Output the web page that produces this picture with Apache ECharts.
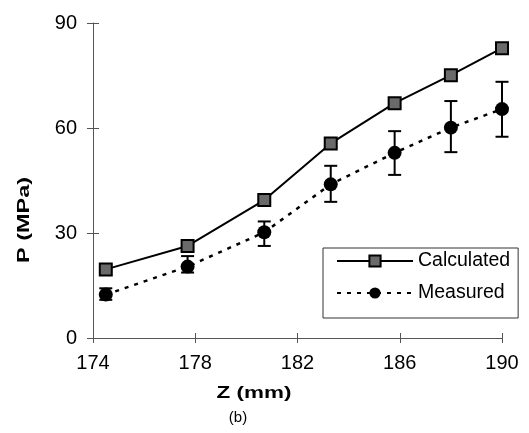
<!DOCTYPE html>
<html>
<head>
<meta charset="utf-8">
<script src="https://cdn.jsdelivr.net/npm/echarts@6/dist/echarts.min.js"></script>
<style>html,body{margin:0;padding:0;background:#fff;}#c{width:529px;height:433px;}</style>
</head>
<body>
<div id="c"></div>
<script>
var zValues = [174.5, 177.7, 180.7, 183.3, 185.8, 188.0, 190.0];
var pCalculated = [19.6, 26.3, 39.4, 55.6, 67.1, 75.1, 82.8];
var pMeasured = [12.4, 20.4, 30.2, 43.9, 52.9, 60.1, 65.4];
var errLow = [10.9, 18.7, 26.3, 38.9, 46.6, 53.1, 57.5];
var errHigh = [14.2, 23.4, 33.3, 49.2, 59.1, 67.7, 73.2];
var xTicks = [174, 178, 182, 186, 190];
var yTicks = [0, 30, 60, 90];

var FONT = '"Liberation Sans", Arial, sans-serif';
var chart = echarts.init(document.getElementById('c'));

var calcData = zValues.map(function (z, i) { return [z, pCalculated[i]]; });
var measData = zValues.map(function (z, i) { return [z, pMeasured[i]]; });
var errData = zValues.map(function (z, i) { return [z, errLow[i], errHigh[i]]; });

var xBase = {
  type: 'value', min: xTicks[0], max: xTicks[xTicks.length - 1], interval: xTicks[1] - xTicks[0],
  splitLine: { show: false }
};
var yBase = {
  type: 'value', min: yTicks[0], max: yTicks[yTicks.length - 1], interval: yTicks[1] - yTicks[0],
  splitLine: { show: false }
};

chart.setOption({
  animation: false,
  backgroundColor: '#fff',
  grid: { left: 93, right: 27, top: 23, bottom: 95, containLabel: false },
  xAxis: [
    Object.assign({}, xBase, {
      axisLine: { show: true, lineStyle: { color: '#555', width: 1 } },
      axisTick: { show: true, inside: false, length: 5, lineStyle: { color: '#555' } },
      axisLabel: { show: true, margin: 15, color: '#000', fontSize: 20, fontFamily: FONT }
    }),
    Object.assign({}, xBase, {
      position: 'bottom',
      axisLine: { show: false },
      axisTick: { show: true, inside: true, length: 5, lineStyle: { color: '#555' } },
      axisLabel: { show: false }
    })
  ],
  yAxis: [
    Object.assign({}, yBase, {
      axisLine: { show: true, lineStyle: { color: '#555', width: 1 } },
      axisTick: { show: true, inside: false, length: 6, lineStyle: { color: '#555' } },
      axisLabel: { show: true, margin: 16, color: '#000', fontSize: 20, fontFamily: FONT }
    }),
    Object.assign({}, yBase, {
      position: 'left',
      axisLine: { show: false },
      axisTick: { show: true, inside: true, length: 6, lineStyle: { color: '#555' } },
      axisLabel: { show: false }
    })
  ],
  legend: {
    left: 323, top: 248, orient: 'vertical',
    padding: [3, 8, 15, 13],
    itemWidth: 76, itemHeight: 14, itemGap: 12,
    borderColor: '#333', borderWidth: 1,
    textStyle: { color: '#000', fontSize: 19.5, fontFamily: FONT },
    data: ['Calculated', 'Measured']
  },
  series: [
    {
      name: 'Calculated', type: 'line', data: calcData,
      symbol: 'rect', symbolSize: 12,
      itemStyle: { color: '#6a6a6a', borderColor: '#000', borderWidth: 2 },
      lineStyle: { color: '#000', width: 2 }
    },
    {
      name: 'Error', type: 'custom', data: errData,
      renderItem: function (params, api) {
        var x = api.value(0);
        var lo = api.coord([x, api.value(1)]);
        var hi = api.coord([x, api.value(2)]);
        var w = 6.5;
        var st = { stroke: '#000', lineWidth: 2 };
        return {
          type: 'group',
          children: [
            { type: 'line', shape: { x1: lo[0], y1: lo[1], x2: hi[0], y2: hi[1] }, style: st },
            { type: 'line', shape: { x1: lo[0] - w, y1: lo[1], x2: lo[0] + w, y2: lo[1] }, style: st },
            { type: 'line', shape: { x1: hi[0] - w, y1: hi[1], x2: hi[0] + w, y2: hi[1] }, style: st }
          ]
        };
      },
      z: 3
    },
    {
      name: 'Measured', type: 'line', data: measData,
      symbol: 'circle', symbolSize: 14,
      itemStyle: { color: '#000' },
      lineStyle: { color: '#000', width: 2.5, type: [4, 6] },
      z: 4
    }
  ],
  graphic: [
    { type: 'text', x: 254, y: 393, scaleX: 1.32, style: { text: 'Z (mm)', font: 'bold 17px ' + FONT, fill: '#000', align: 'center', verticalAlign: 'middle' } },
    { type: 'text', x: 238, y: 418, style: { text: '(b)', font: '15px ' + FONT, fill: '#000', align: 'center', verticalAlign: 'middle' } },
    { type: 'text', x: 24, y: 220, rotation: Math.PI / 2, scaleX: 1.38, style: { text: 'P (MPa)', font: 'bold 17px ' + FONT, fill: '#000', align: 'center', verticalAlign: 'middle' } }
  ]
});
</script>
</body>
</html>
